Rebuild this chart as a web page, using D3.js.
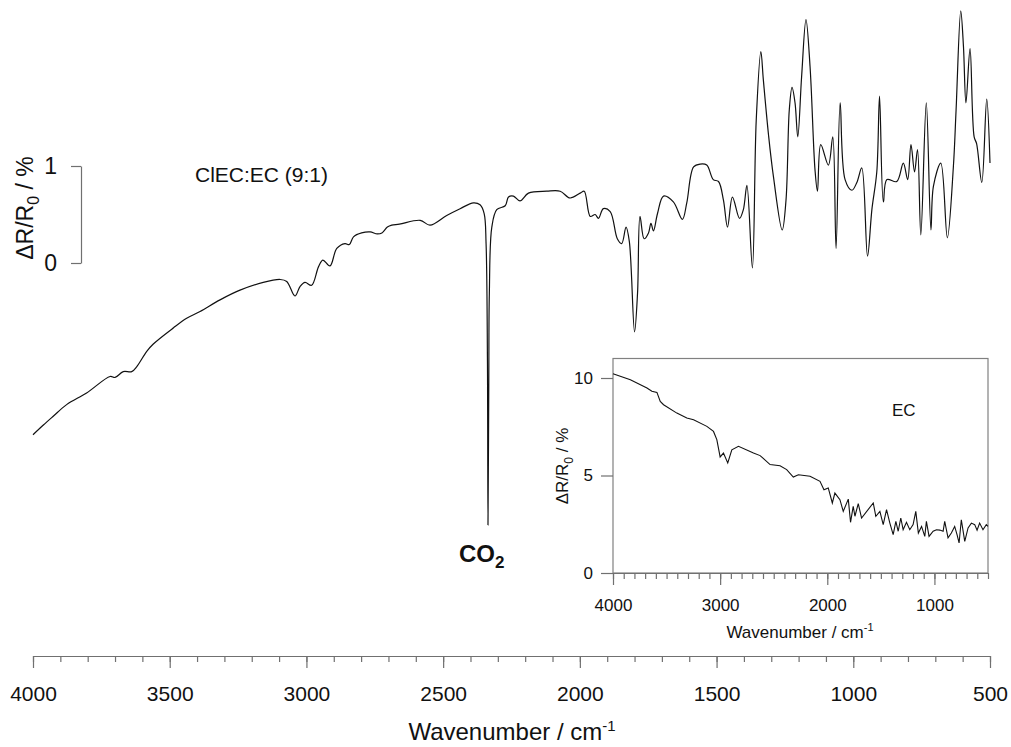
<!DOCTYPE html>
<html lang="en">
<head>
<meta charset="utf-8">
<title>ClEC:EC reflectance spectrum</title>
<script src="https://d3js.org/d3.v7.min.js"></script>
<style>
  body { margin: 0; background: white; }
  text { font-family: "Liberation Sans", Arial, Helvetica, sans-serif; fill: #111; }
  .axis path, .axis line { stroke: #707070; stroke-width: 1.2; }
</style>
</head>
<body>
<div id="chart"></div>
<script>
// main spectrum ClEC:EC (9:1)
var mainWn = [4000, 3962, 3926, 3877, 3804, 3718, 3700, 3670, 3639, 3621, 3584, 3560, 3487, 3438, 3389, 3316,
  3243, 3158, 3096, 3072, 3042, 3023, 3005, 2981, 2956, 2940, 2914, 2889, 2859, 2843, 2828, 2798, 2767, 2741,
  2724, 2704, 2688, 2660, 2584, 2548, 2487, 2438, 2389, 2365, 2350, 2343, 2338, 2336, 2333, 2331, 2322, 2304,
  2273, 2261, 2243, 2219, 2188, 2121, 2072, 2036, 1999, 1984, 1962, 1944, 1932, 1914, 1889, 1863, 1847, 1831,
  1819, 1800, 1789, 1780, 1765, 1749, 1740, 1731, 1716, 1694, 1658, 1625, 1609, 1584, 1560, 1536, 1512, 1493,
  1475, 1460, 1442, 1416, 1402, 1389, 1369, 1355, 1338, 1329, 1310, 1292, 1260, 1246, 1234, 1224, 1213, 1203,
  1189, 1173, 1158, 1140, 1131, 1119, 1091, 1075, 1063, 1048, 1030, 1005, 987, 969, 948, 932, 914, 904, 890,
  877, 841, 817, 801, 789, 776, 765, 753, 733, 716, 707, 680, 656, 634, 624, 607, 597, 588, 573, 558, 549, 530,
  512, 500];
var mainVal = [-1.77, -1.67, -1.58, -1.46, -1.34, -1.17, -1.18, -1.12, -1.12, -1.07, -0.91, -0.835, -0.67, -0.57,
  -0.50, -0.38, -0.28, -0.20, -0.17, -0.19, -0.34, -0.24, -0.20, -0.23, -0.04, 0.03, -0.03, 0.15, 0.20, 0.19,
  0.27, 0.31, 0.32, 0.30, 0.31, 0.37, 0.39, 0.40, 0.44, 0.39, 0.49, 0.56, 0.62, 0.60, 0.51, 0.20, -1.0, -2.70,
  -1.2, -0.31, 0.37, 0.55, 0.59, 0.68, 0.69, 0.64, 0.72, 0.74, 0.74, 0.67, 0.72, 0.74, 0.48, 0.50, 0.46, 0.56,
  0.53, 0.25, 0.20, 0.37, 0.22, -0.71, -0.31, 0.48, 0.25, 0.31, 0.41, 0.33, 0.51, 0.69, 0.63, 0.45, 0.62, 0.99,
  1.02, 1.01, 0.86, 0.84, 0.65, 0.37, 0.68, 0.46, 0.55, 0.80, -0.05, 1.47, 2.18, 1.89, 1.32, 0.89, 0.34, 0.65,
  1.58, 1.81, 1.65, 1.30, 1.92, 2.51, 2.02, 0.96, 0.74, 1.22, 1.01, 1.30, 0.15, 1.65, 0.86, 0.75, 0.83, 0.98,
  0.07, 0.55, 0.94, 1.72, 0.63, 0.86, 0.84, 1.03, 0.86, 1.22, 0.94, 1.17, 0.29, 1.65, 0.34, 0.79, 1.03, 0.26,
  0.99, 1.58, 2.60, 2.23, 1.65, 2.21, 1.30, 1.23, 0.83, 1.69, 1.03];

// inset spectrum EC
var insetWn = [4000, 3838, 3683, 3637, 3590, 3559, 3528, 3404, 3311, 3248, 3124, 3062, 3031, 3000, 2969, 2929,
  2891, 2829, 2689, 2627, 2534, 2441, 2379, 2317, 2270, 2161, 2068, 2031, 1991, 1953, 1929, 1882, 1851, 1804,
  1783, 1758, 1742, 1711, 1680, 1571, 1547, 1509, 1478, 1447, 1416, 1385, 1360, 1338, 1314, 1292, 1261, 1230,
  1199, 1174, 1150, 1120, 1090, 1075, 1050, 1012, 981, 950, 919, 904, 873, 842, 811, 789, 770, 749, 717, 686,
  655, 624, 602, 578, 547, 516, 500];
var insetVal = [10.22, 9.91, 9.49, 9.32, 9.26, 8.80, 8.63, 8.20, 7.95, 7.86, 7.52, 7.26, 6.84, 5.95, 6.15, 5.64,
  6.32, 6.50, 6.15, 6.02, 5.56, 5.50, 5.30, 4.92, 5.04, 4.96, 4.70, 4.27, 4.36, 3.59, 4.10, 3.76, 3.16, 3.79,
  2.60, 3.42, 2.91, 3.56, 2.82, 3.59, 2.91, 3.16, 2.48, 3.25, 2.56, 1.97, 2.65, 2.14, 2.82, 2.22, 2.60, 2.22,
  2.48, 3.16, 2.05, 2.39, 1.88, 2.65, 1.88, 2.14, 2.22, 2.20, 2.14, 2.65, 1.80, 2.05, 2.39, 1.97, 1.54, 2.73,
  1.62, 2.31, 2.56, 2.48, 2.19, 2.56, 2.22, 2.48, 2.39];

var mainTicks = [4000, 3500, 3000, 2500, 2000, 1500, 1000, 500];
var insetTicks = [4000, 3000, 2000, 1000];
var insetYTicks = [0, 5, 10];
var scaleBarTicks = [0, 1];

var minorMain = d3.range(4000, 499, -100);
var fmt = d3.format("d");

var svg = d3.select("#chart").append("svg")
    .attr("width", 1011)
    .attr("height", 747);

// ---- main plot ----
var x = d3.scaleLinear().domain([4000, 500]).range([33, 990]);
var y = d3.scaleLinear().domain([0, 1]).range([263, 166]);

// bottom axis: minor ticks every 100, longer at 500s
svg.append("g")
    .attr("class", "axis")
    .attr("transform", "translate(0,656)")
    .call(d3.axisBottom(x).tickValues(minorMain).tickSize(6).tickSizeOuter(0).tickFormat(""));
var xAxis = svg.append("g")
    .attr("class", "axis")
    .attr("transform", "translate(0,656)")
    .call(d3.axisBottom(x).tickValues(mainTicks).tickSize(12).tickSizeOuter(0).tickPadding(18).tickFormat(fmt));
xAxis.selectAll("text").style("font-size", "21px");
xAxis.select(".domain").remove();

svg.append("text")
    .attr("x", 512)
    .attr("y", 740)
    .attr("text-anchor", "middle")
    .style("font-size", "24px")
    .text("Wavenumber / cm")
  .append("tspan")
    .attr("dy", "-9")
    .style("font-size", "15px")
    .text("-1");

// scale bar on the left
var bar = svg.append("g")
    .attr("class", "axis")
    .attr("transform", "translate(81,0)")
    .call(d3.axisLeft(y).tickValues(scaleBarTicks).tickSize(10).tickSizeOuter(0).tickPadding(14).tickFormat(fmt));
bar.selectAll("text").style("font-size", "23px");

var yLab = svg.append("text")
    .attr("transform", "translate(33,208) rotate(-90)")
    .attr("text-anchor", "middle")
    .style("font-size", "23px");
yLab.append("tspan").text("\u0394R/R");
yLab.append("tspan").attr("dy", 6).style("font-size", "16px").text("0");
yLab.append("tspan").attr("dy", -6).text(" / %");

svg.append("path")
    .datum(d3.zip(mainWn, mainVal))
    .attr("fill", "none")
    .attr("stroke", "#111")
    .attr("stroke-width", 1.2)
    .attr("d", d3.line()
      .curve(d3.curveCatmullRom.alpha(0.5))
      .x(function(d) { return x(d[0]); })
      .y(function(d) { return y(d[1]); }));

svg.append("text")
    .attr("x", 195)
    .attr("y", 182)
    .style("font-size", "21px")
    .text("ClEC:EC (9:1)");

var co2 = svg.append("text")
    .attr("x", 459)
    .attr("y", 562)
    .style("font-size", "24px")
    .style("font-weight", "bold")
    .text("CO");
co2.append("tspan").attr("dy", 6).style("font-size", "17px").text("2");

// ---- inset ----
var xi = d3.scaleLinear().domain([4000, 500]).range([613, 988]);
var yi = d3.scaleLinear().domain([0, 11]).range([573, 358.5]);

svg.append("rect")
    .attr("x", 613)
    .attr("y", 358.5)
    .attr("width", 375)
    .attr("height", 214.5)
    .attr("fill", "none")
    .attr("stroke", "#808080")
    .attr("stroke-width", 1.2);

svg.append("g")
    .attr("class", "axis")
    .attr("transform", "translate(0,573)")
    .call(d3.axisBottom(xi).tickValues(minorMain).tickSize(6).tickSizeOuter(0).tickFormat(""));
var xiAxis = svg.append("g")
    .attr("class", "axis")
    .attr("transform", "translate(0,573)")
    .call(d3.axisBottom(xi).tickValues(insetTicks).tickSize(12).tickSizeOuter(0).tickPadding(14).tickFormat(fmt));
xiAxis.selectAll("text").style("font-size", "17px");
xiAxis.select(".domain").remove();

var yiAxis = svg.append("g")
    .attr("class", "axis")
    .attr("transform", "translate(613,0)")
    .call(d3.axisLeft(yi).tickValues(insetYTicks).tickSize(12).tickSizeOuter(0).tickPadding(8).tickFormat(fmt));
yiAxis.selectAll("text").style("font-size", "17px");
yiAxis.select(".domain").remove();

svg.append("text")
    .attr("x", 800)
    .attr("y", 638)
    .attr("text-anchor", "middle")
    .style("font-size", "17px")
    .text("Wavenumber / cm")
  .append("tspan")
    .attr("dy", "-7")
    .style("font-size", "11px")
    .text("-1");

var yiLab = svg.append("text")
    .attr("transform", "translate(568,466) rotate(-90)")
    .attr("text-anchor", "middle")
    .style("font-size", "17px");
yiLab.append("tspan").text("\u0394R/R");
yiLab.append("tspan").attr("dy", 5).style("font-size", "12px").text("0");
yiLab.append("tspan").attr("dy", -5).text(" / %");

svg.append("path")
    .datum(d3.zip(insetWn, insetVal))
    .attr("fill", "none")
    .attr("stroke", "#111")
    .attr("stroke-width", 1.1)
    .attr("d", d3.line()
      .x(function(d) { return xi(d[0]); })
      .y(function(d) { return yi(d[1]); }));

svg.append("text")
    .attr("x", 892)
    .attr("y", 416)
    .style("font-size", "17px")
    .text("EC");
</script>
</body>
</html>
